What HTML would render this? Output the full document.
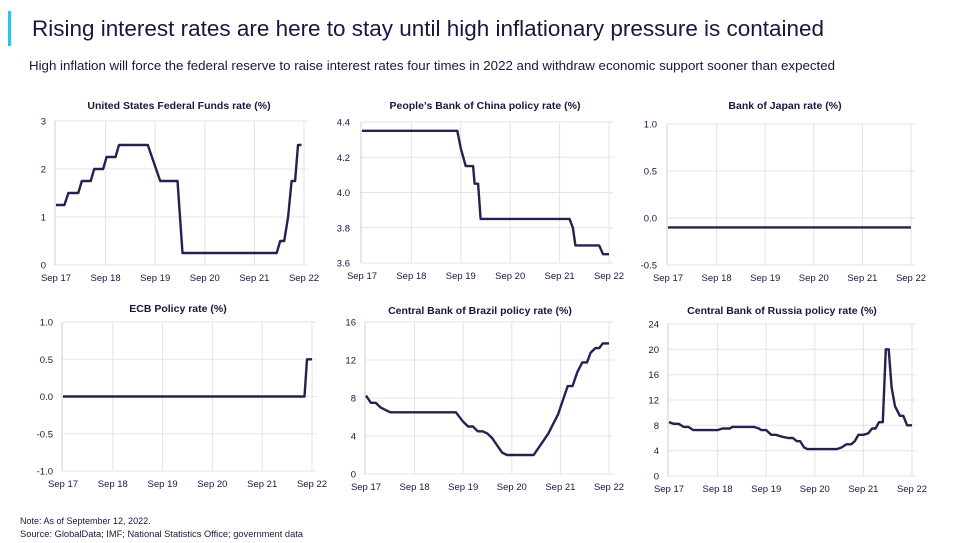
<!DOCTYPE html>
<html><head><meta charset="utf-8"><style>
html,body{margin:0;padding:0;background:#fff;}
svg{display:block;font-family:"Liberation Sans",sans-serif;}
</style></head><body>
<svg id="s" width="960" height="543" viewBox="0 0 960 543" xmlns="http://www.w3.org/2000/svg">
<rect x="0" y="0" width="960" height="543" fill="#fff"/>
<rect x="8" y="11" width="3" height="35" fill="#3bbcef"/>
<text x="32" y="36" font-size="22" fill="#1a1640" textLength="792" lengthAdjust="spacingAndGlyphs">Rising interest rates are here to stay until high inflationary pressure is contained</text>
<text x="29" y="70" font-size="13" fill="#1a1640" textLength="806" lengthAdjust="spacingAndGlyphs">High inflation will force the federal reserve to raise interest rates four times in 2022 and withdraw economic support sooner than expected</text>
<text x="20" y="524" font-size="9" fill="#1a1640">Note: As of September 12, 2022.</text>
<text x="20" y="537" font-size="9" fill="#1a1640" textLength="283" lengthAdjust="spacingAndGlyphs">Source: GlobalData; IMF; National Statistics Office; government data</text>
<g id="charts"></g>
</svg>
<script>
var charts=[
{t:"United States Federal Funds rate (%)",tx:179,ty:109,x0:56,x1:304,y0:265,y1:121,v0:0,v1:3,ticks:[0,1,2,3],fmt:0,lx:46,
d:[[0,1.25],[0.17,1.25],[0.25,1.5],[0.45,1.5],[0.52,1.75],[0.7,1.75],[0.77,2],[0.95,2],[1.02,2.25],[1.2,2.25],[1.27,2.5],[1.85,2.5],[2.1,1.75],[2.45,1.75],[2.55,0.25],[4.45,0.25],[4.52,0.5],[4.6,0.5],[4.68,1.0],[4.75,1.75],[4.82,1.75],[4.88,2.5],[4.95,2.5]]},
{t:"People\u2019s Bank of China policy rate (%)",tx:485,ty:109,x0:362,x1:609,y0:263,y1:122,v0:3.6,v1:4.4,ticks:[3.6,3.8,4.0,4.2,4.4],fmt:1,lx:350,
d:[[0,4.35],[1.93,4.35],[2.0,4.25],[2.05,4.2],[2.1,4.15],[2.25,4.15],[2.28,4.05],[2.35,4.05],[2.4,3.85],[4.2,3.85],[4.27,3.8],[4.32,3.7],[4.8,3.7],[4.88,3.65],[5.0,3.65]]},
{t:"Bank of Japan rate (%)",tx:785,ty:109,x0:668,x1:911,y0:265,y1:124,v0:-0.5,v1:1.0,ticks:[-0.5,0,0.5,1.0],fmt:1,lx:657,d:[[0,-0.1],[5.0,-0.1]]},
{t:"ECB Policy rate (%)",tx:178,ty:312,x0:63,x1:312,y0:471,y1:322,v0:-1,v1:1,ticks:[-1,-0.5,0,0.5,1],fmt:1,lx:53,d:[[0,0],[4.85,0],[4.9,0.5],[5.0,0.5]]},
{t:"Central Bank of Brazil policy rate (%)",tx:480,ty:314,x0:366,x1:609,y0:474,y1:322,v0:0,v1:16,ticks:[0,4,8,12,16],fmt:0,lx:356,
d:[[0,8.25],[0.1,7.5],[0.2,7.5],[0.3,7.0],[0.4,6.75],[0.5,6.5],[1.85,6.5],[2.0,5.5],[2.1,5.0],[2.2,5.0],[2.3,4.5],[2.4,4.5],[2.5,4.25],[2.6,3.75],[2.7,3.0],[2.8,2.25],[2.9,2.0],[3.45,2.0],[3.55,2.75],[3.65,3.5],[3.75,4.25],[3.85,5.25],[3.95,6.25],[4.05,7.75],[4.15,9.25],[4.25,9.25],[4.35,10.75],[4.45,11.75],[4.55,11.75],[4.62,12.75],[4.72,13.25],[4.8,13.25],[4.87,13.75],[5.0,13.75]]},
{t:"Central Bank of Russia policy rate (%)",tx:782,ty:314,x0:669,x1:912,y0:476,y1:324,v0:0,v1:24,ticks:[0,4,8,12,16,20,24],fmt:0,lx:659,
d:[[0,8.5],[0.1,8.25],[0.2,8.25],[0.3,7.75],[0.4,7.75],[0.5,7.25],[1.0,7.25],[1.1,7.5],[1.25,7.5],[1.3,7.75],[1.75,7.75],[1.85,7.5],[1.9,7.25],[2.0,7.25],[2.1,6.5],[2.2,6.5],[2.3,6.25],[2.45,6.0],[2.55,6.0],[2.63,5.5],[2.7,5.5],[2.78,4.5],[2.85,4.25],[3.45,4.25],[3.55,4.5],[3.65,5.0],[3.75,5.0],[3.82,5.5],[3.9,6.5],[4.0,6.5],[4.1,6.75],[4.18,7.5],[4.25,7.5],[4.32,8.5],[4.4,8.5],[4.46,20],[4.52,20],[4.58,14],[4.65,11],[4.75,9.5],[4.82,9.5],[4.9,8],[5.0,8]]}
];
var g=document.getElementById("charts"),h="";
charts.forEach(function(c){
 function X(t){return c.x0+(c.x1-c.x0)*t/5;}
 function Y(v){return c.y0+(c.y1-c.y0)*(v-c.v0)/(c.v1-c.v0);}
 h+='<text x="'+c.tx+'" y="'+c.ty+'" font-size="10.5" font-weight="bold" fill="#1a1640" text-anchor="middle">'+c.t+'</text>';
 var xr=c.x1+4;
 c.ticks.forEach(function(v){var y=Y(v).toFixed(1);
  h+='<line x1="'+(c.x0-1)+'" x2="'+xr+'" y1="'+y+'" y2="'+y+'" stroke="#e3e3e8" stroke-width="1"/>';
  var s=c.fmt?v.toFixed(1):String(v);
  h+='<text x="'+c.lx+'" y="'+(+y+3.5)+'" font-size="9.5" fill="#1a1640" text-anchor="end">'+s+'</text>';});
 var lab=["Sep 17","Sep 18","Sep 19","Sep 20","Sep 21","Sep 22"];
 for(var i=0;i<6;i++){var x=X(i).toFixed(1);
  if(i>0)h+='<line x1="'+x+'" x2="'+x+'" y1="'+c.y1+'" y2="'+c.y0+'" stroke="#e3e3e8" stroke-width="1"/>';
  h+='<text x="'+x+'" y="'+(c.y0+16)+'" font-size="9.5" fill="#1a1640" text-anchor="middle">'+lab[i]+'</text>';}
 h+='<line x1="'+(c.x0-1)+'" x2="'+(c.x0-1)+'" y1="'+c.y1+'" y2="'+c.y0+'" stroke="#cfcfd6" stroke-width="1"/>';
 var p=c.d.map(function(q){return X(q[0]).toFixed(1)+','+Y(q[1]).toFixed(1);}).join(' ');
 h+='<polyline points="'+p+'" fill="none" stroke="#2a1f4e" stroke-width="2.4" stroke-linejoin="round"/>';
});
g.innerHTML=h;
</script>
</body></html>
